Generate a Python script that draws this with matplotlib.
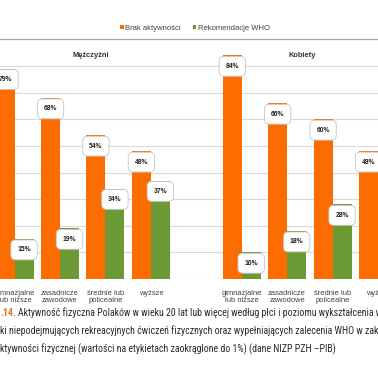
import matplotlib.pyplot as plt
from matplotlib.ticker import MultipleLocator

# dane: odsetek (%) wg płci i wykształcenia
kategorie = ["gimnazjalne\nlub niższe", "zasadnicze\nzawodowe", "średnie lub\npolicealne", "wyższe"]
plec = ["Mężczyźni", "Kobiety"]
brak_m = [79, 68, 54, 48]
who_m = [15, 19, 34, 37]
brak_k = [84, 66, 60, 48]
who_k = [10, 18, 28, 33]

ORANGE = "#fd6c00"
GREEN = "#6b9a34"
TXT = "#404040"
CHART_FONT = ["Liberation Sans", "DejaVu Sans"]
CAP_FONT = ["Liberation Sans Narrow", "DejaVu Sans Condensed", "Roboto Condensed", "Liberation Sans"]

W, H = 378, 370
fig = plt.figure(figsize=(W / 100, H / 100), dpi=100)
fig.patch.set_facecolor("white")

ax = fig.add_axes([0, 1 - 279 / H, 1, (279 - 39.5) / H])

# pozycje: mężczyźni 0..3, przerwa, kobiety 5..8
xm = list(range(len(kategorie)))
xk = [i + len(kategorie) + 1 for i in range(len(kategorie))]
bw = 0.417

b1 = ax.bar([x - bw / 2 for x in xm], brak_m, bw, color=ORANGE, label="Brak aktywności", zorder=2)
b2 = ax.bar([x + bw / 2 for x in xm], who_m, bw, color=GREEN, label="Rekomendacje WHO", zorder=2)
ax.bar([x - bw / 2 for x in xk], brak_k, bw, color=ORANGE, zorder=2)
ax.bar([x + bw / 2 for x in xk], who_k, bw, color=GREEN, zorder=2)

box = dict(boxstyle="round,pad=0.95,rounding_size=0.7", fc="white", ec="#c4c4c4", lw=0.6)
for xs, vals, sh in [(xm, brak_m, -bw / 2), (xm, who_m, bw / 2),
                     (xk, brak_k, -bw / 2), (xk, who_k, bw / 2)]:
    for x, v in zip(xs, vals):
        ax.annotate(f"{v}%", (x + sh, v), xytext=(0, -7.8), textcoords="offset points",
                    ha="center", va="center", fontsize=4.9, fontweight="bold",
                    color="#1f1f1f", family=CHART_FONT, bbox=box, zorder=4)

ax.set_xlim(-15 / 46.8, (W - 15) / 46.8)
ax.set_ylim(0, 90)
ax.yaxis.set_major_locator(MultipleLocator(10))
ax.grid(axis="y", color="#dadada", lw=0.8, zorder=0)
ax.tick_params(left=False, labelleft=False, bottom=False)
ax.set_xticks(xm + xk)
ax.set_xticklabels(kategorie * 2, fontsize=5.4, color=TXT, family=CHART_FONT, linespacing=1.05)
ax.tick_params(axis="x", pad=4.5)
for s in ["left", "right", "bottom"]:
    ax.spines[s].set_visible(False)
ax.spines["top"].set_color("#a8a8a8")
ax.spines["top"].set_linewidth(0.9)
ax.axhline(0, color="#c8c8c8", lw=0.8, zorder=1)

# nazwy paneli
ax.text((94 - 15) / 46.8, 83.8, plec[0], ha="center", va="center", fontsize=5.4,
        fontweight="bold", color="#333333", family=CHART_FONT)
ax.text((311 - 15) / 46.8, 83.8, plec[1], ha="center", va="center", fontsize=5.4,
        fontweight="bold", color="#333333", family=CHART_FONT)

fig.legend(handles=[b1, b2], loc="center", bbox_to_anchor=(195 / W, 1 - 28 / H),
           ncol=2, frameon=False, handlelength=0.5, handleheight=0.5,
           handletextpad=0.25, columnspacing=1.5, prop={"family": CHART_FONT, "size": 5.5})
for t in fig.legends[0].get_texts():
    t.set_color(TXT)

# podpis
CAP = 7.15
fig.text(0, 1 - 313 / H, ".14.", ha="left", va="center", fontsize=CAP, fontweight="bold",
         color="#e8731e", family=CAP_FONT)
fig.text(18 / W, 1 - 313 / H,
         "Aktywność fizyczna Polaków w wieku 20 lat lub więcej według płci i poziomu wykształcenia w",
         ha="left", va="center", fontsize=CAP, color="#2b2b2b", family=CAP_FONT)
fig.text(0, 1 - 331 / H,
         "ki niepodejmujących rekreacyjnych ćwiczeń fizycznych oraz wypełniających zalecenia WHO w zakresie",
         ha="left", va="center", fontsize=CAP, color="#2b2b2b", family=CAP_FONT)
fig.text(0, 1 - 349 / H,
         "ktywności fizycznej (wartości na etykietach zaokrąglone do 1%) (dane NIZP PZH –PIB)",
         ha="left", va="center", fontsize=CAP, color="#2b2b2b", family=CAP_FONT)

fig.savefig("out.png", dpi=100)
